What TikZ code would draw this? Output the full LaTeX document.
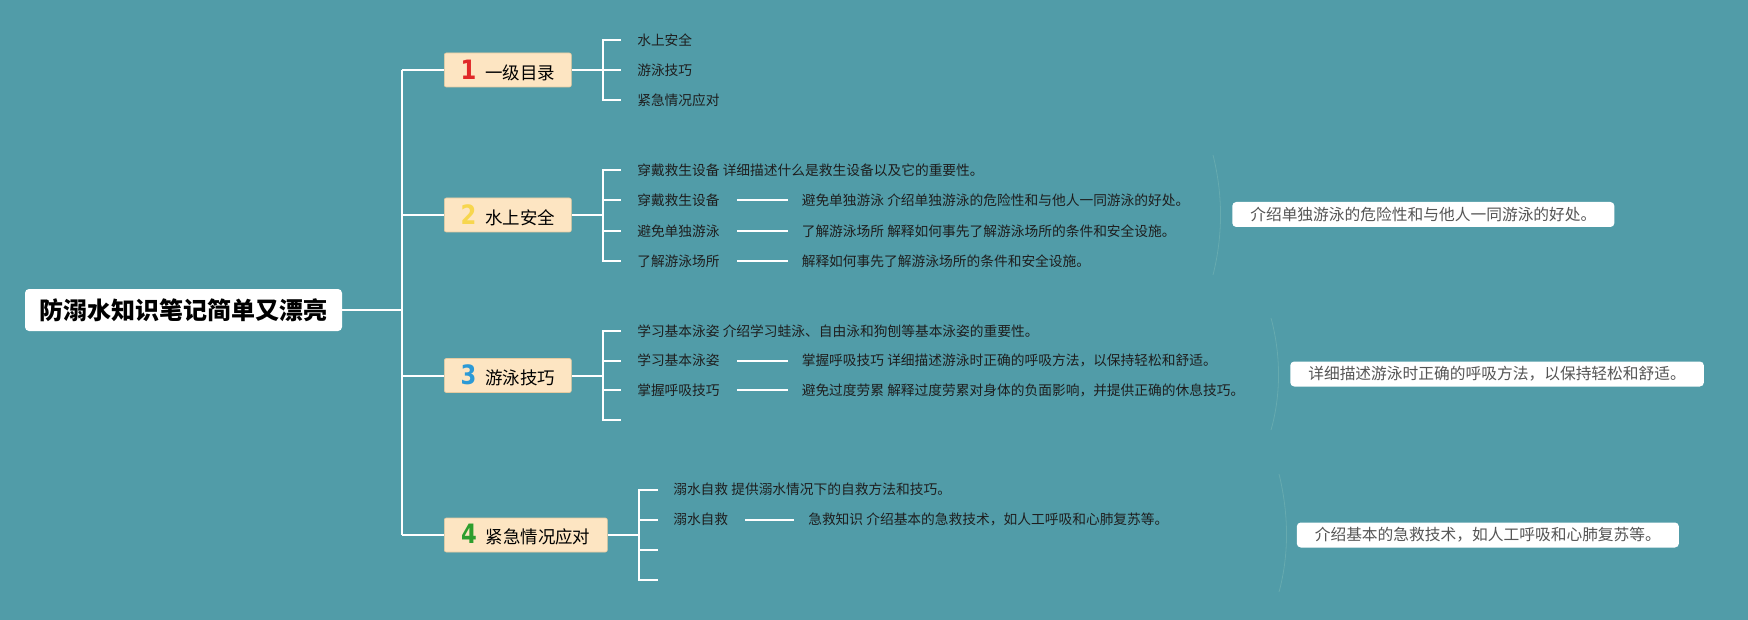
\documentclass[tikz,border=0pt]{standalone}
\usepackage{fontspec}
\setmainfont{Noto Sans CJK SC}
\newfontfamily\numfont{DejaVu Sans}[FakeStretch=0.85]
\usetikzlibrary{calc}
\definecolor{bg}{HTML}{519CA8}
\definecolor{peach}{HTML}{FDE5C2}
\definecolor{peachline}{HTML}{E6CBA0}
\definecolor{txt}{HTML}{1E1E1E}
\definecolor{sumtxt}{HTML}{555555}
\definecolor{numa}{HTML}{E02828}
\definecolor{numb}{HTML}{F7D64E}
\definecolor{numc}{HTML}{2C9AD6}
\definecolor{numd}{HTML}{2E9E2E}
\definecolor{bracecol}{HTML}{66AAAF}
\tikzset{
  conn/.style={draw=white, line width=1.5pt},
  rootbox/.style={fill=white, rounded corners=3pt, text=black,
    font=\fontsize{18}{21}\selectfont\bfseries, minimum width=237.75pt, minimum height=31.5pt, inner sep=0pt},
  topicbox/.style={fill=peach, draw=peachline, line width=0.5pt, rounded corners=1.5pt, text=black,
    font=\fontsize{13.1}{15}\selectfont, minimum height=25.5pt, inner sep=0pt, anchor=west},
  leaf/.style={text=txt, font=\fontsize{10.3}{12}\selectfont, inner sep=0pt, anchor=west},
  sumbox/.style={fill=white, rounded corners=3pt, text=sumtxt, font=\fontsize{11.8}{14}\selectfont,
    inner xsep=13.5pt, inner ysep=0pt, minimum height=18.75pt, anchor=west},
  gap/.style={conn, shorten <=12.75pt, shorten >=10.5pt},
  summarybrace/.style={draw=bracecol, line width=0.6pt}
}
\newcommand{\topicnum}[2]{{\numfont\bfseries\fontsize{20}{20}\selectfont\color{#1}#2}\hspace{6.5pt}}
\begin{document}
\begin{tikzpicture}[x=0.75pt, y=-0.75pt]
\useasboundingbox (0,0) rectangle (1748,620);
\fill[bg] (0,0) rectangle (1748,620);

% root
\node[rootbox] (root) at (183.5,310) {防溺水知识笔记简单又漂亮};
\coordinate (tk) at (402,310);

% topics
\node[topicbox, minimum width=95.25pt] (t1) at (444,70) {\topicnum{numa}{1}一级目录};
\node[topicbox, minimum width=95.25pt] (t2) at (444,215) {\topicnum{numb}{2}水上安全};
\node[topicbox, minimum width=95.25pt] (t3) at (444,375.5) {\topicnum{numc}{3}游泳技巧};
\node[topicbox, minimum width=122.25pt] (t4) at (444,535) {\topicnum{numd}{4}紧急情况应对};

\draw[conn] (root.east) -- (tk);
\draw[conn] (tk |- t1.west) -- (tk |- t4.west);
\foreach \t in {t1,t2,t3,t4} \draw[conn] (tk |- \t.west) -- (\t.west);

% brackets
\coordinate (ba) at (603,0);
\coordinate (bd) at (639,0);
\coordinate (ea) at (621,0);
\coordinate (ed) at (658,0);

% topic 1 leaves
\node[leaf] (l11) at (637,40) {水上安全};
\node[leaf] (l12) at (637,70) {游泳技巧};
\node[leaf] (l13) at (637,100) {紧急情况应对};
\draw[conn] (t1.east) -- (ba |- t1.east);
\draw[conn] (ea |- l11.west) -| (ba |- l13.west) -- (ea |- l13.west);
\draw[conn] (ba |- l12.west) -- (ea |- l12.west);

% topic 2 leaves
\node[leaf] (l21) at (637,170.5) {穿戴救生设备 详细描述什么是救生设备以及它的重要性。};
\node[leaf] (l22) at (637,200.5) {穿戴救生设备};
\node[leaf] (l22b) at (801.5,200.5) {避免单独游泳 介绍单独游泳的危险性和与他人一同游泳的好处。};
\node[leaf] (l23) at (637,231) {避免单独游泳};
\node[leaf] (l23b) at (801.5,231) {了解游泳场所 解释如何事先了解游泳场所的条件和安全设施。};
\node[leaf] (l24) at (637,261) {了解游泳场所};
\node[leaf] (l24b) at (801.5,261) {解释如何事先了解游泳场所的条件和安全设施。};
\draw[conn] (t2.east) -- (ba |- t2.east);
\draw[conn] (ea |- l21.west) -| (ba |- l24.west) -- (ea |- l24.west);
\draw[conn] (ba |- l22.west) -- (ea |- l22.west);
\draw[conn] (ba |- l23.west) -- (ea |- l23.west);
\draw[gap] (l22.east) -- (l22b.west);
\draw[gap] (l23.east) -- (l23b.west);
\draw[gap] (l24.east) -- (l24b.west);

% topic 3 leaves
\node[leaf] (l31) at (637,331) {学习基本泳姿 介绍学习蛙泳、自由泳和狗刨等基本泳姿的重要性。};
\node[leaf] (l32) at (637,360.5) {学习基本泳姿};
\node[leaf] (l32b) at (801.5,360.5) {掌握呼吸技巧 详细描述游泳时正确的呼吸方法，以保持轻松和舒适。};
\node[leaf] (l33) at (637,390) {掌握呼吸技巧};
\node[leaf] (l33b) at (801.5,390) {避免过度劳累 解释过度劳累对身体的负面影响，并提供正确的休息技巧。};
\coordinate (l34) at (621,420);
\draw[conn] (t3.east) -- (ba |- t3.east);
\draw[conn] (ea |- l31.west) -| (ba |- l34) -- (l34);
\draw[conn] (ba |- l32.west) -- (ea |- l32.west);
\draw[conn] (ba |- l33.west) -- (ea |- l33.west);
\draw[gap] (l32.east) -- (l32b.west);
\draw[gap] (l33.east) -- (l33b.west);

% topic 4 leaves
\node[leaf] (l41) at (673,489.5) {溺水自救 提供溺水情况下的自救方法和技巧。};
\node[leaf] (l42) at (673,519.5) {溺水自救};
\node[leaf] (l42b) at (808,519.5) {急救知识 介绍基本的急救技术，如人工呼吸和心肺复苏等。};
\coordinate (l43) at (658,549.5);
\coordinate (l44) at (658,579.5);
\draw[conn] (t4.east) -- (bd |- t4.east);
\draw[conn] (ed |- l41.west) -| (bd |- l44) -- (l44);
\draw[conn] (bd |- l42.west) -- (ed |- l42.west);
\draw[conn] (bd |- l43) -- (l43);
\draw[gap] (l42.east) -- (l42b.west);

% summaries
\draw[summarybrace] (1213,155) .. controls (1223,195) and (1223,235) .. (1213,275);
\draw[summarybrace] (1271,318) .. controls (1281,355) and (1281,395) .. (1271,430);
\draw[summarybrace] (1279,474) .. controls (1289,515) and (1289,555) .. (1279,592);
\node[sumbox] (s2) at (1232,214.5) {介绍单独游泳的危险性和与他人一同游泳的好处。};
\node[sumbox] (s3) at (1290,374) {详细描述游泳时正确的呼吸方法，以保持轻松和舒适。};
\node[sumbox] (s4) at (1296.5,535) {介绍基本的急救技术，如人工呼吸和心肺复苏等。};
\end{tikzpicture}
\end{document}
